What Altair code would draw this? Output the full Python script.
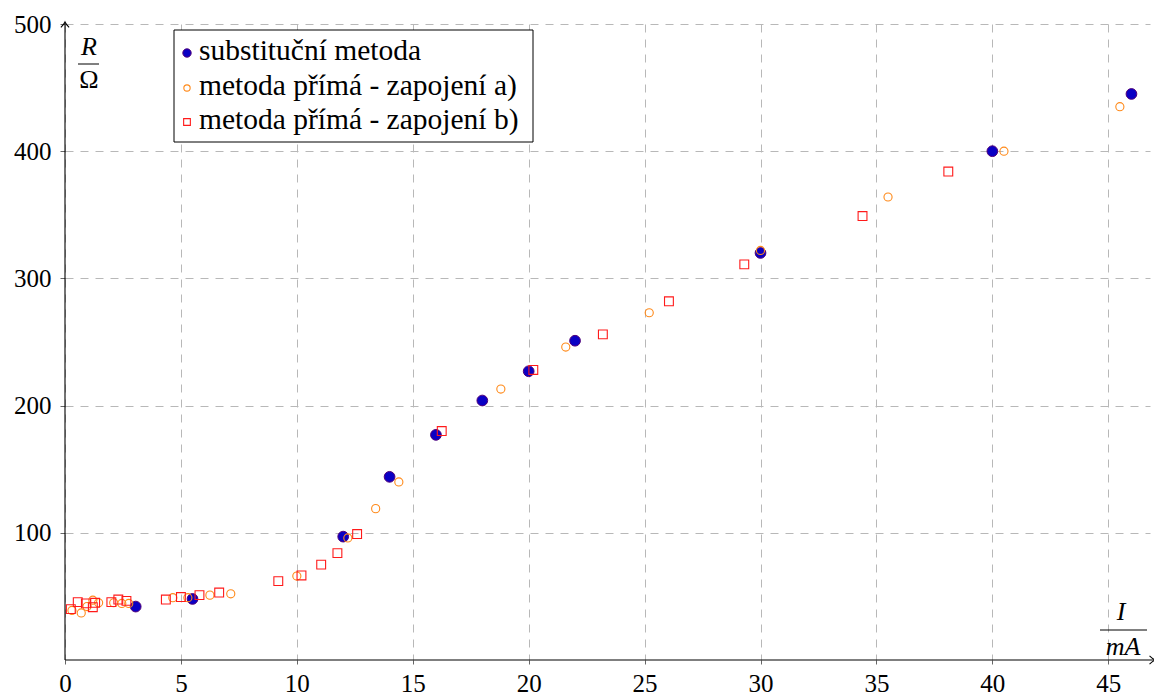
import altair as alt
import pandas as pd

# substituční metoda
sub_I = [3.05, 5.5, 12.0, 14.0, 16.0, 18.0, 20.0, 22.0, 30.0, 40.0, 46.0]
sub_R = [42, 48, 97, 144, 177, 204, 227, 251, 320, 400, 445]

# metoda přímá - zapojení a)
a_I = [0.3, 0.7, 0.95, 1.2, 1.45, 2.1, 2.45, 2.75, 4.65, 5.3, 6.25, 7.15, 10.0,
       12.2, 13.4, 14.4, 18.8, 21.6, 25.2, 30.0, 35.5, 40.5, 45.5]
a_R = [39, 37, 42, 47, 45, 45, 44.5, 44.5, 49, 49, 51, 52, 66,
       96, 119, 140, 213, 246, 273, 322, 364, 400, 435]

# metoda přímá - zapojení b)
b_I = [0.25, 0.55, 0.9, 1.2, 1.3, 2.0, 2.3, 2.65, 4.35, 5.0, 5.8, 6.65, 9.2,
       10.2, 11.05, 11.75, 12.6, 16.25, 20.2, 23.2, 26.05, 29.3, 34.4, 38.1]
b_R = [40, 45.5, 44.5, 41.5, 45, 45.5, 47.5, 46.5, 47.5, 49.5, 51, 53, 62,
       66.5, 75, 84, 99, 180, 228, 256, 282, 311, 349, 384]

x_ticks = [0, 5, 10, 15, 20, 25, 30, 35, 40, 45]
y_ticks = [100, 200, 300, 400, 500]
legend_labels = ["substituční metoda", "metoda přímá - zapojení a)", "metoda přímá - zapojení b)"]

FONT = "'Liberation Serif', 'Times New Roman', serif"
BLUE_FILL = "#0a00c4"
BLUE_EDGE = "#50007a"
ORANGE = "#ff8a1a"
RED = "#ff1a1a"
GRID = "#b8b8b8"

df_sub = pd.DataFrame({"I": sub_I, "R": sub_R})
df_a = pd.DataFrame({"I": a_I, "R": a_R})
df_b = pd.DataFrame({"I": b_I, "R": b_R})
one = pd.DataFrame({"k": [0]})

xs = alt.Scale(domain=[0, 46.8], nice=False, zero=False)
ys = alt.Scale(domain=[0, 500], nice=False, zero=False)

x_axis = alt.Axis(values=x_ticks, grid=True, gridDash=[8, 7], gridColor=GRID,
                  gridWidth=1, domain=False, ticks=True, tickSize=4, tickColor="#666",
                  tickWidth=1,
                  labelFont=FONT, labelFontSize=25, labelColor="black",
                  labelPadding=7, labelFlush=False, title=None)
y_axis = alt.Axis(values=y_ticks, grid=True, gridDash=[8, 7], gridColor=GRID,
                  gridWidth=1, domain=False, ticks=True, tickSize=5, tickColor="#666",
                  tickWidth=1,
                  labelFont=FONT, labelFontSize=25, labelColor="black",
                  labelPadding=9, labelFlush=False, title=None)

base_grid = alt.Chart(df_sub).mark_point(opacity=0).encode(
    x=alt.X("I:Q", scale=xs, axis=x_axis),
    y=alt.Y("R:Q", scale=ys, axis=y_axis),
)

blue = alt.Chart(df_sub).mark_point(
    shape="circle", filled=True, size=115, fill=BLUE_FILL, stroke=BLUE_EDGE,
    strokeWidth=1, opacity=1, fillOpacity=1
).encode(x=alt.X("I:Q", scale=xs), y=alt.Y("R:Q", scale=ys))

orange = alt.Chart(df_a).mark_point(
    shape="circle", filled=False, size=66, color=ORANGE, strokeWidth=1.1, opacity=1
).encode(x=alt.X("I:Q", scale=xs), y=alt.Y("R:Q", scale=ys))

red = alt.Chart(df_b).mark_point(
    shape="square", filled=False, size=78, color=RED, strokeWidth=1.1, opacity=1
).encode(x=alt.X("I:Q", scale=xs), y=alt.Y("R:Q", scale=ys))

# axis lines with arrows
y_line = alt.Chart(one).mark_rule(color="black", strokeWidth=1.1).encode(
    x=alt.value(0), y=alt.value(636), y2=alt.value(-1))
x_line = alt.Chart(one).mark_rule(color="black", strokeWidth=1.1).encode(
    x=alt.value(0), x2=alt.value(1089), y=alt.value(636))
arrow_path = "M -1 -0.75 Q -0.35 -0.15 0 0 Q -0.35 0.15 -1 0.75"
x_arrow = alt.Chart(one).mark_point(shape=arrow_path, size=120, filled=False,
                                    color="black", strokeWidth=1.1, opacity=1).encode(
    x=alt.value(1090), y=alt.value(636))
y_arrow = alt.Chart(one).mark_point(shape=arrow_path, size=120, filled=False,
                                    color="black", strokeWidth=1.1, opacity=1, angle=270).encode(
    x=alt.value(0), y=alt.value(-2))

# axis titles as fractions
def txt(s, x, y, italic=False, size=26, align="center"):
    return alt.Chart(one).mark_text(
        text=s, font=FONT, fontSize=size, fontStyle="italic" if italic else "normal",
        align=align, baseline="alphabetic", color="black"
    ).encode(x=alt.value(x), y=alt.value(y))

r_lab = txt("R", 24, 31, italic=True)
r_bar = alt.Chart(one).mark_rule(color="black", strokeWidth=1).encode(
    x=alt.value(13), x2=alt.value(34), y=alt.value(40))
om_lab = txt("Ω", 24, 64)
i_lab = txt("I", 1056, 596, italic=True)
i_bar = alt.Chart(one).mark_rule(color="black", strokeWidth=1).encode(
    x=alt.value(1035), x2=alt.value(1082), y=alt.value(606))
ma_lab = txt("mA", 1058, 631, italic=True)

# legend
leg_box = alt.Chart(one).mark_rect(fill="white", stroke="black", strokeWidth=1).encode(
    x=alt.value(109), x2=alt.value(468), y=alt.value(6), y2=alt.value(118))
leg_blue = alt.Chart(one).mark_point(shape="circle", filled=True, size=70, fill=BLUE_FILL,
                                     stroke=BLUE_EDGE, strokeWidth=1, opacity=1).encode(
    x=alt.value(122), y=alt.value(29))
leg_orange = alt.Chart(one).mark_point(shape="circle", filled=False, size=40, color=ORANGE,
                                       strokeWidth=1.1, opacity=1).encode(
    x=alt.value(122), y=alt.value(64))
leg_red = alt.Chart(one).mark_point(shape="square", filled=False, size=45, color=RED,
                                    strokeWidth=1.1, opacity=1).encode(
    x=alt.value(122), y=alt.value(98))
leg_t1 = txt(legend_labels[0], 134, 36, size=29.5, align="left")
leg_t2 = txt(legend_labels[1], 134, 71, size=29.5, align="left")
leg_t3 = txt(legend_labels[2], 134, 105, size=29.5, align="left")

chart = alt.layer(
    base_grid, blue, orange, red,
    y_line, x_line, x_arrow, y_arrow,
    r_lab, r_bar, om_lab, i_lab, i_bar, ma_lab,
    leg_box, leg_blue, leg_orange, leg_red, leg_t1, leg_t2, leg_t3,
).properties(
    width=1085, height=636,
    autosize=alt.AutoSizeParams(type="none"),
    padding={"left": 65, "top": 24, "right": 4, "bottom": 40},
    background="white",
).configure_view(stroke=None)

chart.save("out.html", embed_options={"renderer": "svg", "actions": False})
